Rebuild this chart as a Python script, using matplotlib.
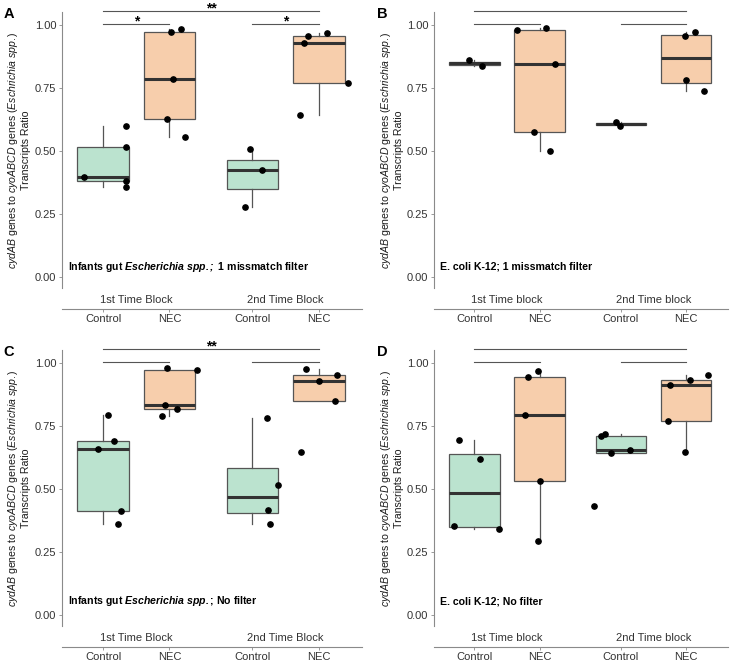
import matplotlib
matplotlib.use("Agg")
import matplotlib.pyplot as plt
import matplotlib.transforms as mtransforms
import numpy as np

plt.rcParams['font.family'] = 'Liberation Sans'
plt.rcParams['mathtext.fontset'] = 'custom'
plt.rcParams['mathtext.rm'] = 'Liberation Sans'
plt.rcParams['mathtext.it'] = 'Liberation Sans:italic'
plt.rcParams['mathtext.bf'] = 'Liberation Sans:bold'
plt.rcParams['mathtext.bfit'] = 'Liberation Sans:italic:bold'

# categories (Control / NEC inside each time block)
groups = ["Control", "NEC", "Control", "NEC"]
blocks_gut = ["1st Time Block", "2nd Time Block"]
blocks_k12 = ["1st Time block", "2nd Time block"]

# panel A: infants gut Escherichia spp., 1 missmatch filter
a_values = [
    [0.600, 0.515, 0.395, 0.380, 0.357],
    [0.971, 0.983, 0.786, 0.625, 0.554],
    [0.507, 0.425, 0.277],
    [0.958, 0.930, 0.970, 0.768, 0.641],
]
a_jitter = [
    [0.35, 0.34, -0.29, 0.34, 0.34],
    [0.02, 0.18, 0.06, -0.04, 0.23],
    [-0.03, 0.14, -0.11],
    [-0.17, -0.22, 0.13, 0.44, -0.29],
]

# panel B: E. coli K-12, 1 missmatch filter
b_values = [
    [0.860, 0.837],
    [0.979, 0.988, 0.844, 0.575, 0.498],
    [0.616, 0.599],
    [0.958, 0.971, 0.780, 0.738],
]
b_jitter = [
    [-0.09, 0.11],
    [-0.35, 0.10, 0.23, -0.09, 0.16],
    [-0.08, -0.01],
    [-0.01, 0.13, 0.00, 0.27],
]

# panel C: infants gut Escherichia spp., no filter
c_values = [
    [0.795, 0.692, 0.660, 0.411, 0.360],
    [0.979, 0.972, 0.835, 0.817, 0.791],
    [0.782, 0.515, 0.418, 0.360],
    [0.976, 0.930, 0.954, 0.849, 0.647],
]
c_jitter = [
    [0.08, 0.16, -0.08, 0.27, 0.23],
    [-0.04, 0.41, -0.07, 0.11, -0.11],
    [0.22, 0.38, 0.23, 0.26],
    [-0.20, 0.01, 0.28, 0.25, -0.27],
]

# panel D: E. coli K-12, no filter
d_values = [
    [0.693, 0.620, 0.352, 0.343],
    [0.970, 0.944, 0.792, 0.530, 0.295],
    [0.717, 0.709, 0.644, 0.653, 0.431],
    [0.952, 0.931, 0.914, 0.770, 0.647],
]
d_jitter = [
    [-0.23, 0.08, -0.31, 0.38],
    [-0.03, -0.17, -0.23, 0.00, -0.03],
    [-0.25, -0.30, -0.15, 0.14, -0.41],
    [0.34, 0.06, -0.24, -0.28, -0.02],
]

# significance brackets: (from group, to group, label)
a_sig = [(0, 1, "*"), (2, 3, "*"), (0, 3, "**")]
b_sig = [(0, 1, ""), (2, 3, ""), (0, 3, "")]
c_sig = [(0, 1, ""), (2, 3, ""), (0, 3, "**")]
d_sig = [(0, 1, ""), (2, 3, ""), (0, 3, "")]

ylabel = (r"$\it{cydAB}$ genes to $\it{cyoABCD}$ genes ($\it{Eschrichia\ spp.}$)"
          "\nTranscripts Ratio")

panels = [
    ("A", a_values, a_jitter, a_sig, blocks_gut,
     r"Infants gut $\mathbfit{Escherichia\ spp.;}$ 1 missmatch filter", 0.04),
    ("B", b_values, b_jitter, b_sig, blocks_k12,
     "E. coli K-12; 1 missmatch filter", 0.04),
    ("C", c_values, c_jitter, c_sig, blocks_gut,
     r"Infants gut $\mathbfit{Escherichia\ spp.}$; No filter", 0.054),
    ("D", d_values, d_jitter, d_sig, blocks_k12,
     "E. coli K-12; No filter", 0.054),
]

pos = [0, 1, 2.25, 3.25]
fills = ["#bbe3cf", "#f7ceac", "#bbe3cf", "#f7ceac"]
axis_grey = "#8a8a8a"
text_grey = "#333333"

fig = plt.figure(figsize=(7.36, 6.62), dpi=100)
rects = [
    [0.0842, 0.5645, 0.4076, 0.4168],
    [0.5897, 0.5645, 0.4000, 0.4168],
    [0.0842, 0.0539, 0.4076, 0.4168],
    [0.5897, 0.0539, 0.4000, 0.4168],
]

for rect, (letter, values, jitter, sig, blocks, note, note_y) in zip(rects, panels):
    ax = fig.add_axes(rect)
    bp = ax.boxplot(values, positions=pos, widths=0.78, patch_artist=True,
                    showfliers=False, whis=1.5,
                    boxprops=dict(edgecolor="#555555", linewidth=0.9),
                    medianprops=dict(color="#333333", linewidth=2.2),
                    whiskerprops=dict(color="#555555", linewidth=0.9),
                    capprops=dict(visible=False))
    for patch, c in zip(bp["boxes"], fills):
        patch.set_facecolor(c)
    for p, vals, jit in zip(pos, values, jitter):
        ax.plot(p + np.array(jit), vals, "o", color="black", ms=3.8, zorder=4)

    ax.set_xlim(-0.62, 3.9)
    ax.set_ylim(-0.045, 1.05)
    for s in ["top", "right"]:
        ax.spines[s].set_visible(False)
    for s in ["left", "bottom"]:
        ax.spines[s].set_color(axis_grey)
        ax.spines[s].set_linewidth(0.8)
    ax.spines["bottom"].set_position(("outward", 15))
    ax.set_xticks(pos)
    ax.set_xticklabels(groups)
    ax.set_yticks([0, 0.25, 0.5, 0.75, 1.0])
    ax.set_yticklabels(["0.00", "0.25", "0.50", "0.75", "1.00"])
    ax.tick_params(length=2.5, width=0.6, color=axis_grey, labelsize=8,
                   labelcolor="#333333", pad=1.5)
    ax.tick_params(axis="x", pad=1)

    trans_x = mtransforms.blended_transform_factory(ax.transData, ax.transAxes)
    trans_y = mtransforms.blended_transform_factory(ax.transAxes, ax.transData)
    ax.text((pos[0] + pos[1]) / 2, -0.042, blocks[0], transform=trans_x,
            ha="center", va="center", fontsize=8, color=text_grey)
    ax.text((pos[2] + pos[3]) / 2, -0.042, blocks[1], transform=trans_x,
            ha="center", va="center", fontsize=8, color=text_grey)

    ax.text(0.02, note_y, note, transform=trans_y, ha="left", va="center",
            fontsize=7.6, fontweight="bold", color="black")

    for i, j, lab in sig:
        y = 1.057 if (j - i) > 1 else 1.005
        ax.plot([pos[i], pos[j]], [y, y], color="#555555", lw=0.8,
                clip_on=False)
        if lab:
            ax.text((pos[i] + pos[j]) / 2, y - 0.008, lab, ha="center",
                    va="baseline", fontsize=10, fontweight="bold", clip_on=False)

    ax.text(-0.145, 0.5, ylabel, transform=ax.transAxes, rotation=90,
            ha="center", va="center", ma="center", fontsize=7.6, color="#1a1a1a")
    ax.text(-0.195, 0.995, letter, transform=ax.transAxes, ha="left",
            va="center", fontsize=10.5, fontweight="bold")

fig.savefig("out.png", dpi=100)
